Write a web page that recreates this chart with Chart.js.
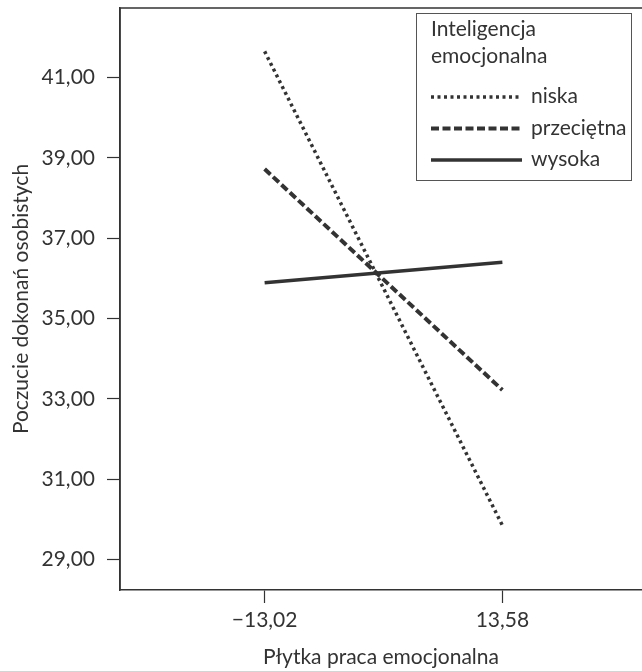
<!DOCTYPE html>
<html>
<head>
<meta charset="utf-8">
<script src="https://cdn.jsdelivr.net/npm/chart.js@4"></script>
<style>
  html, body { margin: 0; padding: 0; background: #fff; }
  #wrap { width: 642px; height: 671px; }
</style>
</head>
<body>
<div id="wrap"><canvas id="chart" width="642" height="671"></canvas></div>
<script>
// data
const xValues = [-13.02, 13.58];
const xTickLabels = ["\u221213,02", "13,58"];
const yTicks = [29, 31, 33, 35, 37, 39, 41];
const niska = [41.65, 29.85];
const przecietna = [38.72, 33.22];
const wysoka = [35.89, 36.4];
const seriesNames = ["niska", "przeciętna", "wysoka"];
const legendTitle = ["Inteligencja", "emocjonalna"];

const ink = "#333333";
const fontFamily = "Lato, 'Open Sans', sans-serif";
Chart.defaults.font.family = fontFamily;
Chart.defaults.color = ink;

const pts = (ys) => ys.map((y, i) => ({ x: xValues[i], y: y }));

// frame + legend box drawn after the chart
const framePlugin = {
  id: "frame",
  afterDraw(chart) {
    const { ctx, chartArea: a } = chart;
    ctx.save();
    ctx.strokeStyle = ink;
    ctx.lineWidth = 1.5;
    ctx.beginPath();
    ctx.moveTo(a.left, a.bottom);
    ctx.lineTo(a.left, a.top);
    ctx.lineTo(a.right, a.top);
    ctx.stroke();

    // legend
    ctx.fillStyle = "#fff";
    ctx.fillRect(416, 13, 216, 168);
    ctx.strokeStyle = "#555";
    ctx.lineWidth = 1;
    ctx.strokeRect(416.5, 13.5, 215, 167);
    ctx.fillStyle = ink;
    ctx.font = "21px " + fontFamily;
    ctx.textBaseline = "alphabetic";
    ctx.textAlign = "left";
    ctx.fillText(legendTitle[0], 431, 36);
    ctx.fillText(legendTitle[1], 431, 63);
    const rows = [97, 128.5, 160];
    chart.data.datasets.forEach((ds, i) => {
      ctx.strokeStyle = ds.borderColor;
      ctx.lineWidth = ds.borderWidth;
      ctx.setLineDash(ds.borderDash || []);
      ctx.beginPath();
      ctx.moveTo(431, rows[i]);
      ctx.lineTo(522, rows[i]);
      ctx.stroke();
      ctx.setLineDash([]);
      ctx.fillText(ds.label, 531, rows[i] + 6);
    });
    ctx.restore();
  }
};

new Chart(document.getElementById("chart"), {
  type: "scatter",
  data: {
    datasets: [
      { label: seriesNames[0], data: pts(niska), showLine: true, borderColor: ink, borderWidth: 3.5, borderDash: [3, 3.5], pointRadius: 0, borderCapStyle: "butt" },
      { label: seriesNames[1], data: pts(przecietna), showLine: true, borderColor: ink, borderWidth: 4, borderDash: [8, 3.5], pointRadius: 0, borderCapStyle: "butt" },
      { label: seriesNames[2], data: pts(wysoka), showLine: true, borderColor: ink, borderWidth: 3.5, pointRadius: 0, borderCapStyle: "butt" }
    ]
  },
  options: {
    responsive: false,
    animation: false,
    layout: { padding: { top: 8, right: 0, left: 0, bottom: 0 } },
    plugins: { legend: { display: false }, tooltip: { enabled: false } },
    scales: {
      x: {
        type: "linear",
        min: -29.2,
        max: 29.2,
        afterBuildTicks: (s) => { s.ticks = xValues.map((v) => ({ value: v })); },
        afterFit: (s) => { s.height = 81; s.paddingLeft = 0; s.paddingRight = 0; },
        ticks: {
          font: { size: 21 },
          color: ink,
          padding: 5,
          maxRotation: 0,
          callback: (v) => xTickLabels[xValues.indexOf(v)]
        },
        grid: { drawOnChartArea: false, tickLength: 13, color: ink, tickWidth: 1.2 },
        border: { display: true, color: ink, width: 1.5 },
        title: { display: true, text: "Płytka praca emocjonalna", font: { size: 21 }, color: ink, padding: { top: 0, bottom: 1 } }
      },
      y: {
        min: 28.24,
        max: 42.73,
        afterBuildTicks: (s) => { s.ticks = yTicks.map((v) => ({ value: v })); },
        afterFit: (s) => { s.width = 120; s.paddingTop = 0; s.paddingBottom = 0; },
        ticks: {
          font: { size: 21 },
          color: ink,
          padding: 12,
          callback: (v) => v.toFixed(2).replace(".", ",")
        },
        grid: { drawOnChartArea: false, tickLength: 13, color: ink, tickWidth: 1.2 },
        border: { display: true, color: ink, width: 1.5 },
        title: { display: true, text: "Poczucie dokonań osobistych", font: { size: 21 }, color: ink, padding: { top: 9, bottom: 0 } }
      }
    }
  },
  plugins: [framePlugin]
});
</script>
</body>
</html>
